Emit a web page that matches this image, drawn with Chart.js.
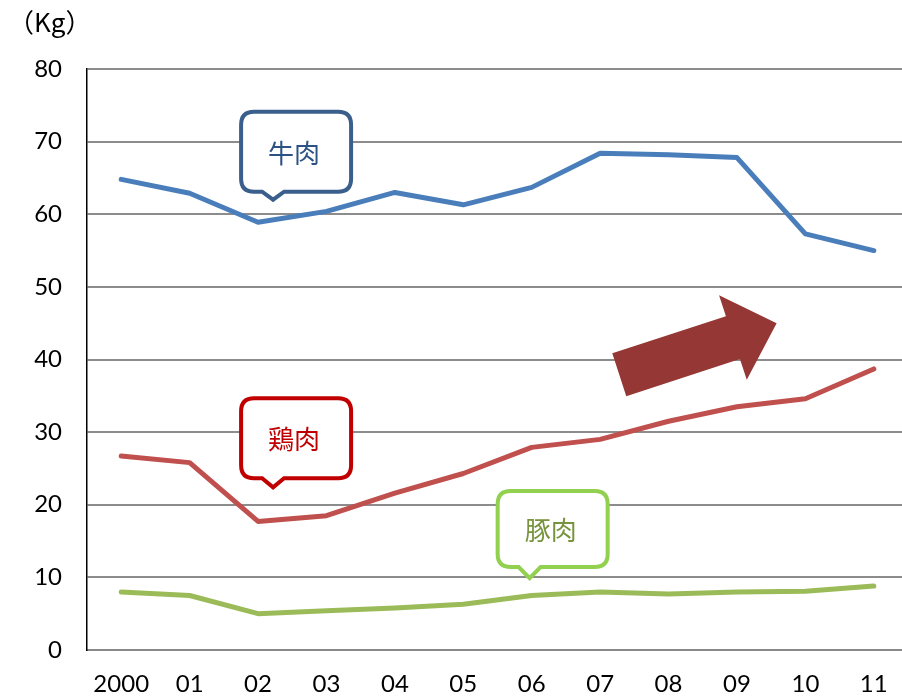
<!DOCTYPE html>
<html lang="ja">
<head>
<meta charset="UTF-8">
<title>食肉消費量の推移</title>
<script src="https://cdn.jsdelivr.net/npm/chart.js"></script>
<style>
  html, body { margin: 0; padding: 0; overflow: hidden; background: #fff; }
  #wrap { position: relative; width: 912px; height: 699px; }
</style>
</head>
<body>
<div id="wrap"><canvas id="meatChart"></canvas></div>
<script>
// 年（2000年〜2011年）
var years = ['2000', '01', '02', '03', '04', '05', '06', '07', '08', '09', '10', '11'];
// 消費量 (Kg)
var beef    = [64.8, 62.9, 58.9, 60.4, 63.0, 61.3, 63.7, 68.4, 68.2, 67.8, 57.3, 55.0];
var chicken = [26.7, 25.8, 17.7, 18.5, 21.6, 24.3, 27.9, 29.0, 31.5, 33.5, 34.6, 38.7];
var pork    = [ 8.0,  7.5,  5.0,  5.4,  5.8,  6.3,  7.5,  8.0,  7.7,  8.0,  8.1,  8.8];
var yTicks  = [0, 10, 20, 30, 40, 50, 60, 70, 80];

var jpFont = '"Noto Sans CJK JP", "Noto Sans", sans-serif';

// 吹き出しラベル（先端の位置はデータ座標）
var callouts = [
  { text: '牛肉', x: 2.22, y: 62.0, color: '#3a5f8c', textColor: '#2c5284', w: 110, h: 80, tip: 8 },
  { text: '鶏肉', x: 2.22, y: 22.4, color: '#c00000', textColor: '#c00000', w: 110, h: 80, tip: 9 },
  { text: '豚肉', x: 5.97, y: 9.9,  color: '#92d050', textColor: '#77933c', w: 110, h: 76, tip: 11 }
];

function roundRectPath(ctx, x, y, w, h, r, tipX, tipY) {
  var b = y + h;
  ctx.beginPath();
  ctx.moveTo(x + r, y);
  ctx.lineTo(x + w - r, y);
  ctx.quadraticCurveTo(x + w, y, x + w, y + r);
  ctx.lineTo(x + w, b - r);
  ctx.quadraticCurveTo(x + w, b, x + w - r, b);
  ctx.lineTo(tipX + 11, b);
  ctx.lineTo(tipX, tipY);
  ctx.lineTo(tipX - 11, b);
  ctx.lineTo(x + r, b);
  ctx.quadraticCurveTo(x, b, x, b - r);
  ctx.lineTo(x, y + r);
  ctx.quadraticCurveTo(x, y, x + r, y);
  ctx.closePath();
}

var decorations = {
  id: 'decorations',
  afterDatasetsDraw: function (chart) {
    var ctx = chart.ctx;
    var xs = chart.scales.x, ys = chart.scales.y;
    ctx.save();

    // 単位
    ctx.fillStyle = '#000';
    ctx.font = '26px ' + jpFont;
    ctx.textAlign = 'left';
    ctx.textBaseline = 'middle';
    ctx.fillText('（Kg）', 8, 22);

    // 増加を示す矢印
    var t0x = xs.getPixelForValue(7.28), t0y = ys.getPixelForValue(37.9);
    var t1x = xs.getPixelForValue(9.58), t1y = ys.getPixelForValue(45.0);
    var dx = t1x - t0x, dy = t1y - t0y, len = Math.sqrt(dx * dx + dy * dy);
    var ux = dx / len, uy = dy / len, nx = -uy, ny = ux;
    var shaft = 22.5, head = 44.5, headLen = 46;
    var bx = t1x - ux * headLen, by = t1y - uy * headLen;
    ctx.fillStyle = '#953735';
    ctx.beginPath();
    ctx.moveTo(t0x + nx * shaft, t0y + ny * shaft);
    ctx.lineTo(bx + nx * shaft, by + ny * shaft);
    ctx.lineTo(bx + nx * head, by + ny * head);
    ctx.lineTo(t1x, t1y);
    ctx.lineTo(bx - nx * head, by - ny * head);
    ctx.lineTo(bx - nx * shaft, by - ny * shaft);
    ctx.lineTo(t0x - nx * shaft, t0y - ny * shaft);
    ctx.closePath();
    ctx.fill();

    // 吹き出し
    callouts.forEach(function (c) {
      var tipX = xs.getPixelForValue(c.x), tipY = ys.getPixelForValue(c.y);
      var left = tipX - 32, bottom = tipY - c.tip, top = bottom - c.h;
      roundRectPath(ctx, left, top, c.w, c.h, 13, tipX, tipY);
      ctx.fillStyle = '#fff';
      ctx.fill();
      ctx.lineWidth = 4;
      ctx.lineJoin = 'miter';
      ctx.strokeStyle = c.color;
      ctx.stroke();
      ctx.fillStyle = c.textColor;
      ctx.font = '26px ' + jpFont;
      ctx.textAlign = 'center';
      ctx.textBaseline = 'middle';
      ctx.fillText(c.text, left + c.w / 2 - 2, top + c.h / 2 + 1);
    });
    ctx.restore();
  }
};

function lineSet(label, data, color) {
  return {
    label: label,
    data: data,
    borderColor: color,
    backgroundColor: color,
    borderWidth: 5,
    borderCapStyle: 'round',
    borderJoinStyle: 'round',
    tension: 0,
    pointRadius: 0,
    fill: false
  };
}

new Chart(document.getElementById('meatChart'), {
  type: 'line',
  data: {
    labels: years,
    datasets: [
      lineSet('牛肉', beef, '#4a7ebb'),
      lineSet('鶏肉', chicken, '#c0504d'),
      lineSet('豚肉', pork, '#9bbb59')
    ]
  },
  options: {
    responsive: true,
    maintainAspectRatio: false,
    animation: false,
    layout: { padding: { left: 0, right: 4, top: 69, bottom: 0 } },
    plugins: {
      legend: { display: false },
      tooltip: { enabled: false }
    },
    scales: {
      x: {
        offset: true,
        afterFit: function (axis) { axis.height = 49; },
        grid: { display: false, drawTicks: false },
        border: { display: true, color: '#888', width: 2 },
        ticks: {
          color: '#000',
          font: { family: 'Lato', size: 24 },
          padding: 20,
          maxRotation: 0,
          autoSkip: false
        }
      },
      y: {
        min: 0,
        max: 80,
        afterFit: function (axis) { axis.width = 87; },
        afterBuildTicks: function (axis) {
          axis.ticks = yTicks.map(function (v) { return { value: v }; });
        },
        grid: { color: '#8c8c8c', lineWidth: 2, drawTicks: false },
        border: { display: true, color: '#000', width: 1.5 },
        ticks: {
          color: '#000',
          font: { family: 'Lato', size: 24 },
          padding: 25
        }
      }
    }
  },
  plugins: [decorations]
});
</script>
</body>
</html>
